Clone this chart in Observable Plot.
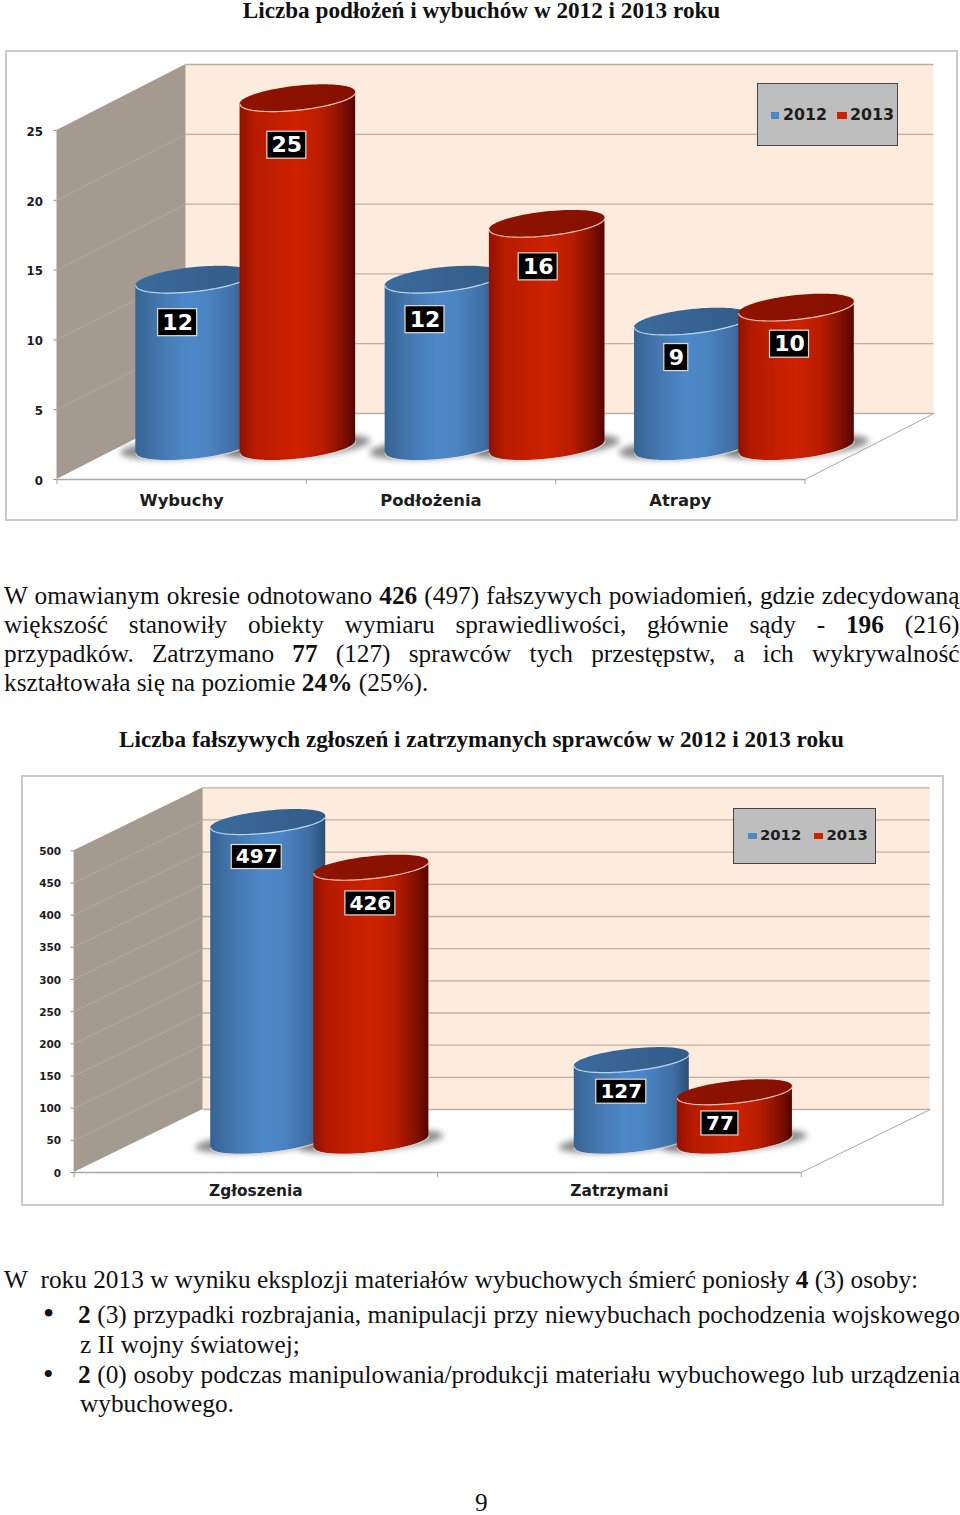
<!DOCTYPE html>
<html lang="pl">
<head>
<meta charset="utf-8">
<script src="https://cdn.jsdelivr.net/npm/d3@7"></script>
<script src="https://cdn.jsdelivr.net/npm/@observablehq/plot@0.6"></script>
<style>
  html, body { margin: 0; padding: 0; background: #fff; }
  #page { position: relative; width: 960px; height: 1515px; overflow: hidden; font-family: "Liberation Serif", serif; color: #111; }
  .line { position: absolute; white-space: nowrap; font-size: 25.3px; line-height: 30px; height: 30px; }
  .just { text-align: justify; text-align-last: justify; white-space: normal; }
  .ttl { font-weight: bold; font-size: 23.2px; text-align: center; left: 0; }
  .frame { position: absolute; border: 2px solid #cacaca; box-sizing: border-box; }
  .chart { position: absolute; left: 0; }
  .chart svg { display: block; overflow: visible; }
  .legend { position: absolute; box-sizing: border-box; background: #bebebe; border: 1.5px solid #454545; font-family: "DejaVu Sans", sans-serif; font-weight: bold; color: #1c1c1c; }
  .legend span { position: absolute; }
</style>
</head>
<body>
<svg width="0" height="0" style="position:absolute">
  <defs>
    <linearGradient id="gradBlue" x1="0" x2="1" y1="0" y2="0">
      <stop offset="0" stop-color="#356392"/><stop offset=".18" stop-color="#4375ac"/>
      <stop offset=".45" stop-color="#4d88c9"/><stop offset=".62" stop-color="#4b84c3"/>
      <stop offset=".86" stop-color="#3f6ea4"/><stop offset="1" stop-color="#2b4e78"/>
    </linearGradient>
    <linearGradient id="gradRed" x1="0" x2="1" y1="0" y2="0">
      <stop offset="0" stop-color="#8d1200"/><stop offset=".12" stop-color="#b51a00"/>
      <stop offset=".5" stop-color="#cd2200"/><stop offset=".72" stop-color="#b81c00"/>
      <stop offset=".9" stop-color="#7f0f00"/><stop offset="1" stop-color="#540500"/>
    </linearGradient>
    <linearGradient id="gradBlueTop" x1="0" x2="1" y1="0" y2="0">
      <stop offset="0" stop-color="#3a6a9c"/><stop offset="1" stop-color="#335c88"/>
    </linearGradient>
    <linearGradient id="gradRedTop" x1="0" x2="1" y1="0" y2="0">
      <stop offset="0" stop-color="#8f1400"/><stop offset="1" stop-color="#850f00"/>
    </linearGradient>
  </defs>
</svg>
<div id="page"></div>
<script>
// ---------- chart values ----------
const series = ["2012", "2013"];
const categoriesA = ["Wybuchy", "Podłożenia", "Atrapy"];
const values2012A = [12, 12, 9];
const values2013A = [25, 16, 10];
const ticksA = [0, 5, 10, 15, 20, 25];

const categoriesB = ["Zgłoszenia", "Zatrzymani"];
const values2012B = [497, 127];
const values2013B = [426, 77];
const ticksB = [0, 50, 100, 150, 200, 250, 300, 350, 400, 450, 500];

// ---------- page text ----------
const titleA = "Liczba podłożeń i wybuchów w 2012 i 2013 roku";
const titleB = "Liczba fałszywych zgłoszeń i zatrzymanych sprawców w 2012 i 2013 roku";
const paragraph = [
  "W omawianym okresie odnotowano <b>426</b> (497) fałszywych powiadomień, gdzie zdecydowaną",
  "większość stanowiły obiekty wymiaru sprawiedliwości, głównie sądy - <b>196</b> (216)",
  "przypadków. Zatrzymano <b>77</b> (127) sprawców tych przestępstw, a ich wykrywalność",
  "kształtowała się na poziomie <b>24%</b> (25%)."
];
const closing = "W&nbsp; roku 2013 w wyniku eksplozji materiałów wybuchowych śmierć poniosły <b>4</b> (3) osoby:";
const bulletOne = ["<b>2</b> (3) przypadki rozbrajania, manipulacji przy niewybuchach pochodzenia wojskowego", "z II wojny światowej;"];
const bulletTwo = ["<b>2</b> (0) osoby podczas manipulowania/produkcji materiału wybuchowego lub urządzenia", "wybuchowego."];
const pageNumber = "9";

// ---------- layout (pixels) ----------
const layoutA = {
  top: 50, height: 471, left: 56.5, right: 804.5, y0: 479, yMax: 130,
  frame: [5, 50, 953, 471],
  depthX: 129, depthY: 66, baseLift: 32.3,
  offsets: [0.548, 0.966], halfWidth: 57.8, ellipse: 12, slant: 6,
  nudgeX: [[-16, -11], [-18, -9], [-16, -7]],
  nudgeY: [[43, 47], [40, 43], [36, 36.6]],
  boxH: 27, boxW: {1: 24, 2: 39}, labelFont: 22,
  tickFont: 11.8, tickDy: 1.5, tickTextPad: 14, catFont: 16.4, catPad: 14.5,
  legend: {box: [757, 83, 141, 63], swatch: [[12.5, 27.5, 8.5, 7], [79, 27.5, 9.5, 7]], text: [[25, 20.5], [92, 20.5]], font: 15.8}
};
const layoutB = {
  top: 775, height: 431, left: 73.6, right: 800.7, y0: 1172, yMax: 850.3,
  frame: [20.5, 775, 923, 431],
  depthX: 129, depthY: 63, baseLift: 30.7,
  offsets: [0.534, 0.8177], halfWidth: 57.5, ellipse: 11, slant: 6,
  nudgeX: [[-11.5, -1], [-10.5, -15]],
  nudgeY: [[35, 35.7], [31.6, 31.2]],
  boxH: 24, boxW: {2: 37, 3: 50}, labelFont: 20,
  tickFont: 10.5, tickDy: 0.7, tickTextPad: 13, catFont: 15.4, catPad: 13,
  legend: {box: [733, 808, 143, 55.5], swatch: [[13.5, 23.5, 9, 6], [79.5, 23.5, 9, 6]], text: [[26, 16], [92.5, 16]], font: 14.8}
};

const seriesStyle = [
  {fill: "url(#gradBlue)", top: "url(#gradBlueTop)", edge: "#bcd6ee", swatch: "#4d87c7"},
  {fill: "url(#gradRed)", top: "url(#gradRedTop)", edge: "#f6c3b4", swatch: "#cc2200"}
];

// Sample points on the elliptical outline of a cylinder slice, in data units
const arc = d3.range(0, 49).map(i => (i / 48) * Math.PI);

function cylinderMarks(cx, value, base, hw, b, s, style) {
  const top = base + value;
  const body = arc.map(t => ({
    x: cx + hw * Math.cos(t),
    y1: base + s * Math.cos(t) - b * Math.sin(t),
    y2: top + s * Math.cos(t)
  }));
  const cap = arc.map(t => ({
    x: cx + hw * Math.cos(t),
    y1: top + s * Math.cos(t) - b * Math.sin(t),
    y2: top + s * Math.cos(t) + b * Math.sin(t)
  }));
  return [
    Plot.area(body, {x1: "x", y1: "y1", y2: "y2", fill: style.fill}),
    Plot.line(body, {x: "x", y: "y1", stroke: "#d8dde2", strokeWidth: 1.2, strokeOpacity: 0.8}),
    Plot.area(cap, {x1: "x", y1: "y1", y2: "y2", fill: style.top}),
    Plot.line(cap, {x: "x", y: "y1", stroke: style.edge, strokeWidth: 1.2})
  ];
}

function shadowMark(cx, value, base, hw, b, s) {
  const pts = arc.map(t => ({
    x: cx + hw * Math.cos(t),
    y1: base + s * Math.cos(t) - b * Math.sin(t),
    y2: base + s * Math.cos(t) + b * Math.sin(t)
  }));
  return Plot.area(pts, {x1: "x", y1: "y1", y2: "y2", fill: "#6f6f6f", fillOpacity: 0.8, imageFilter: "blur(3px)"});
}

function draw3D(categories, v2012, v2013, ticks, L) {
  const n = categories.length;
  const yTop = ticks[ticks.length - 1];
  const ux = (L.right - L.left) / n;
  const uy = (L.y0 - L.yMax) / yTop;
  const dX = L.depthX / ux, dY = L.depthY / uy;
  const base = L.baseLift / uy;
  const hw = L.halfWidth / ux, b = L.ellipse / uy, s = L.slant / uy;

  const bars = [];
  categories.forEach((c, i) => {
    [v2012[i], v2013[i]].forEach((v, k) => bars.push({i, k, v, cx: i + L.offsets[k]}));
  });

  const marks = [
    // back wall and floor edges
    Plot.rect([0], {x1: dX, x2: n + dX, y1: dY, y2: yTop + dY, fill: "#fdebdd"}),
    Plot.ruleY(ticks, {x1: dX, x2: n + dX, y: d => d + dY, stroke: "#bdb1a5", strokeWidth: 1.3}),
    // left wall
    Plot.area([0, 1], {x1: d => d * dX, y1: d => d * dY, y2: d => yTop + d * dY, fill: "#a59a90"}),
    ...ticks.slice(1, -1).map(t =>
      Plot.line([0, 1], {x: d => d * dX, y: d => t + d * dY, stroke: "#b4aaa0", strokeWidth: 1})),
    Plot.line([0, 1], {x: d => n + d * dX, y: d => d * dY, stroke: "#a9a9a9", strokeWidth: 1}),
    Plot.ruleY([0], {x1: 0, x2: n, stroke: "#a9a9a9", strokeWidth: 1.3}),
    // shadows under the cylinders
    ...bars.map(d => shadowMark(d.cx, d.v, base, hw + 15 / ux, b - 1 / uy, s)),
    // cylinders
    ...bars.flatMap(d => cylinderMarks(d.cx, d.v, base, hw, b, s, seriesStyle[d.k])),
    // axes
    Plot.axisY({ticks, anchor: "left", tickSize: 3, stroke: "#8a8a8a", tickFormat: () => "", label: null}),
    Plot.axisY({ticks, anchor: "left", tickSize: 0, tickPadding: L.tickTextPad, dy: L.tickDy, fill: "#1d1d1d",
      fontSize: L.tickFont, fontWeight: "bold", label: null, tickFormat: d => String(d)}),
    Plot.axisX({ticks: d3.range(0, n + 1), anchor: "bottom", tickSize: 5, stroke: "#a0a0a0", tickFormat: () => "", label: null}),
    Plot.axisX({ticks: categories.map((c, i) => i + 0.5), anchor: "bottom", tickSize: 0, tickPadding: L.catPad,
      fill: "#1d1d1d", fontSize: L.catFont, fontWeight: "bold", label: null, tickFormat: d => categories[d - 0.5]})
  ];

  // value labels in black boxes
  bars.forEach(d => {
    const nx = L.nudgeX[d.i][d.k], ny = L.nudgeY[d.i][d.k];
    const w = L.boxW[String(d.v).length];
    const row = [d];
    const cx = d.cx + nx / ux, cy = base + d.v - ny / uy;
    marks.push(
      Plot.rect(row, {x1: () => cx - w / 2 / ux, x2: () => cx + w / 2 / ux,
        y1: () => cy - L.boxH / 2 / uy, y2: () => cy + L.boxH / 2 / uy,
        fill: "#000", stroke: "#e6dcd2", strokeWidth: 1.2}),
      Plot.text(row, {x: () => cx, y: () => cy, text: e => String(e.v), fill: "#fff",
        fontSize: L.labelFont, fontWeight: "bold", textAnchor: "middle", lineAnchor: "middle"})
    );
  });

  return Plot.plot({
    width: 960,
    height: L.height,
    marginLeft: L.left,
    marginRight: 960 - L.right,
    marginTop: L.yMax - L.top,
    marginBottom: L.top + L.height - L.y0,
    x: {domain: [0, n], label: null},
    y: {domain: [0, yTop], label: null},
    style: {fontFamily: "'DejaVu Sans', sans-serif", background: "transparent", overflow: "visible"},
    marks
  });
}

// ---------- assemble the page ----------
const page = document.getElementById("page");
function addLine(html, cy, left, right, cls, size) {
  const d = document.createElement("div");
  d.className = "line " + (cls || "");
  d.innerHTML = html;
  d.style.top = (cy - 15) + "px";
  d.style.left = left + "px";
  if (right != null) d.style.width = (right - left) + "px";
  if (size) d.style.fontSize = size + "px";
  page.appendChild(d);
  return d;
}
function addChart(categories, a, b, ticks, L) {
  const f = document.createElement("div");
  f.className = "frame";
  [f.style.left, f.style.top, f.style.width, f.style.height] = L.frame.map(v => v + "px");
  page.appendChild(f);
  const w = document.createElement("div");
  w.className = "chart";
  w.style.top = L.top + "px";
  w.appendChild(draw3D(categories, a, b, ticks, L));
  page.appendChild(w);
  const lg = document.createElement("div");
  lg.className = "legend";
  [lg.style.left, lg.style.top, lg.style.width, lg.style.height] = L.legend.box.map(v => v + "px");
  series.forEach((name, k) => {
    const sw = document.createElement("span");
    const [x, y, wd, h] = L.legend.swatch[k];
    sw.style.cssText = `left:${x}px;top:${y}px;width:${wd}px;height:${h}px;background:${seriesStyle[k].swatch}`;
    lg.appendChild(sw);
    const tx = document.createElement("span");
    tx.textContent = name;
    tx.style.cssText = `left:${L.legend.text[k][0]}px;top:${L.legend.text[k][1]}px;font-size:${L.legend.font}px;line-height:20px`;
    lg.appendChild(tx);
  });
  page.appendChild(lg);
}

const topTitle = addLine(titleA, 15, 0, 963, "ttl");
topTitle.style.top = "0px";
topTitle.style.height = "21px";
topTitle.style.lineHeight = "20px";
addChart(categoriesA, values2012A, values2013A, ticksA, layoutA);
addLine(paragraph[0], 595, 4, 959.5, "just");
addLine(paragraph[1], 624, 4, 959.5, "just");
addLine(paragraph[2], 653, 4, 959.5, "just");
addLine(paragraph[3], 682, 4);
addLine(titleB, 739, 0, 963, "ttl");
addChart(categoriesB, values2012B, values2013B, ticksB, layoutB);
addLine(closing, 1279, 4);
addLine("•", 1312.5, 43, null, "", 32);
addLine(bulletOne[0], 1314, 78, 960, "just");
addLine(bulletOne[1], 1344, 80);
addLine("•", 1373.5, 43, null, "", 30);
addLine(bulletTwo[0], 1374, 78, 960, "just");
addLine(bulletTwo[1], 1403, 80);
const folio = addLine(pageNumber, 1502, 475);
folio.style.top = "1490px";
folio.style.height = "24px";
folio.style.lineHeight = "24px";
</script>
</body>
</html>
